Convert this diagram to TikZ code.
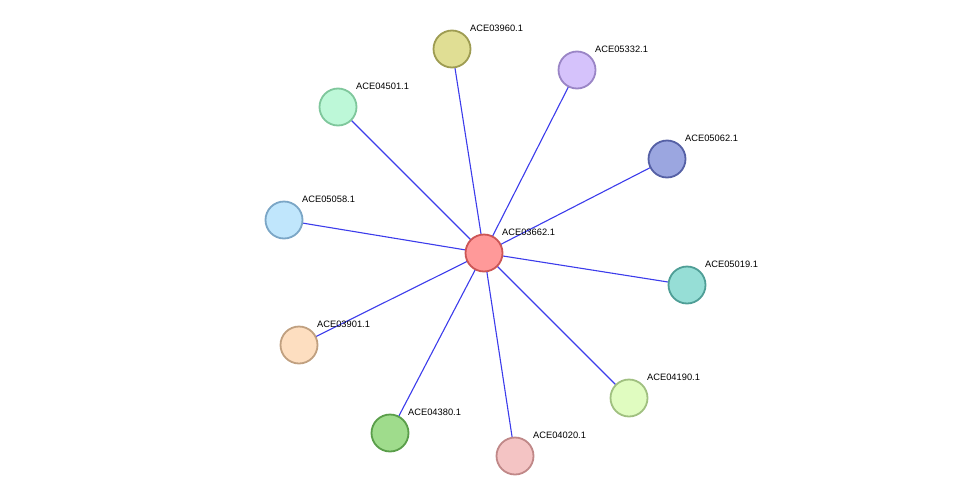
\documentclass[tikz,border=0pt]{standalone}
\usepackage{fontspec}
\setmainfont{Liberation Sans}
\begin{document}
\begin{tikzpicture}[x=1pt,y=-1pt,
  prot/.style={circle,minimum size=37pt,inner sep=0pt,line width=1.8pt},
  lab/.style={anchor=south west,font=\fontsize{9.3}{11}\selectfont,inner sep=0pt},
  edge/.style={draw={rgb,255:red,60;green,60;blue,235},line width=1.1pt}]
\useasboundingbox (0,0) rectangle (975,501);
\def\C#1#2#3{\coordinate (c#1) at (#2,#3);}
\C{03662}{484}{253}
\C{03960}{452}{49}
\C{05332}{577}{70}
\C{04501}{338}{107}
\C{05062}{667}{159}
\C{05058}{284}{220}
\C{05019}{687}{285}
\C{03901}{299}{345}
\C{04190}{629}{398}
\C{04380}{390}{433}
\C{04020}{515}{456}
\foreach \t in {03960,05332,04501,05062,05058,05019,03901,04190,04380,04020}
  \path[edge] (c03662) -- (c\t);
\def\P#1#2#3{%
  \definecolor{f#1}{HTML}{#2}\definecolor{s#1}{HTML}{#3}%
  \node[prot,fill=f#1,draw=s#1] (n#1) at (c#1) {};
  \node[lab] (l#1) at ([shift={(18,-17)}]c#1) {ACE#1.1};}
\P{03662}{FF9999}{CC5555}
\P{03960}{E0DE94}{9E9C52}
\P{05332}{D5C2FB}{9A85C6}
\P{04501}{BDF8D8}{7FC79C}
\P{05062}{9BA6E0}{5560A5}
\P{05058}{C0E6FC}{7BA6C6}
\P{05019}{96DED6}{4F9E96}
\P{03901}{FDDEC0}{C0A080}
\P{04190}{E0FCC0}{A0C080}
\P{04380}{9FDC8C}{5A9E4A}
\P{04020}{F4C4C4}{C08888}
\end{tikzpicture}
\end{document}
